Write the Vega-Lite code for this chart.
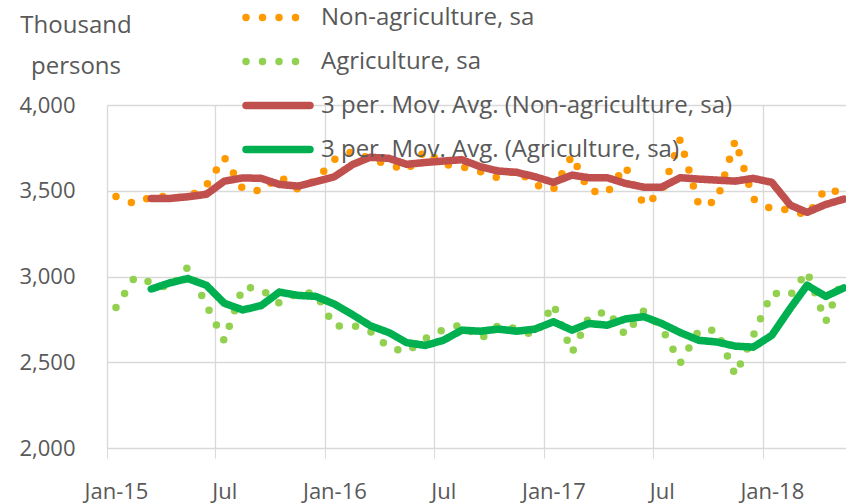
{
  "$schema": "https://vega.github.io/schema/vega-lite/v6.json",
  "width": 739,
  "height": 343,
  "autosize": {"type": "none"},
  "padding": {"left": 107, "top": 105, "right": 0, "bottom": 56},
  "background": "white",
  "config": {"view": {"stroke": null}, "font": "Open Sans"},
  "data": {"values": [
    {"d":"2015-01-16","s":"Non-agriculture, sa","v":3467},
    {"d":"2015-02-16","s":"Non-agriculture, sa","v":3425},
    {"d":"2015-03-16","s":"Non-agriculture, sa","v":3465},
    {"d":"2015-04-16","s":"Non-agriculture, sa","v":3468},
    {"d":"2015-05-16","s":"Non-agriculture, sa","v":3458},
    {"d":"2015-06-16","s":"Non-agriculture, sa","v":3530},
    {"d":"2015-07-16","s":"Non-agriculture, sa","v":3695},
    {"d":"2015-08-16","s":"Non-agriculture, sa","v":3510},
    {"d":"2015-09-16","s":"Non-agriculture, sa","v":3498},
    {"d":"2015-10-16","s":"Non-agriculture, sa","v":3585},
    {"d":"2015-11-16","s":"Non-agriculture, sa","v":3508},
    {"d":"2015-12-16","s":"Non-agriculture, sa","v":3562},
    {"d":"2016-01-16","s":"Non-agriculture, sa","v":3683},
    {"d":"2016-02-16","s":"Non-agriculture, sa","v":3730},
    {"d":"2016-03-16","s":"Non-agriculture, sa","v":3685},
    {"d":"2016-04-16","s":"Non-agriculture, sa","v":3652},
    {"d":"2016-05-16","s":"Non-agriculture, sa","v":3619},
    {"d":"2016-06-16","s":"Non-agriculture, sa","v":3735},
    {"d":"2016-07-16","s":"Non-agriculture, sa","v":3653},
    {"d":"2016-08-16","s":"Non-agriculture, sa","v":3640},
    {"d":"2016-09-16","s":"Non-agriculture, sa","v":3612},
    {"d":"2016-10-16","s":"Non-agriculture, sa","v":3575},
    {"d":"2016-11-16","s":"Non-agriculture, sa","v":3621},
    {"d":"2016-12-16","s":"Non-agriculture, sa","v":3535},
    {"d":"2017-01-16","s":"Non-agriculture, sa","v":3508},
    {"d":"2017-02-16","s":"Non-agriculture, sa","v":3705},
    {"d":"2017-03-16","s":"Non-agriculture, sa","v":3500},
    {"d":"2017-04-16","s":"Non-agriculture, sa","v":3488},
    {"d":"2017-05-16","s":"Non-agriculture, sa","v":3645},
    {"d":"2017-06-16","s":"Non-agriculture, sa","v":3418},
    {"d":"2017-07-16","s":"Non-agriculture, sa","v":3490},
    {"d":"2017-08-16","s":"Non-agriculture, sa","v":3800},
    {"d":"2017-09-16","s":"Non-agriculture, sa","v":3415},
    {"d":"2017-10-16","s":"Non-agriculture, sa","v":3438},
    {"d":"2017-11-16","s":"Non-agriculture, sa","v":3795},
    {"d":"2017-12-16","s":"Non-agriculture, sa","v":3453},
    {"d":"2018-01-16","s":"Non-agriculture, sa","v":3393},
    {"d":"2018-02-16","s":"Non-agriculture, sa","v":3390},
    {"d":"2018-03-16","s":"Non-agriculture, sa","v":3355},
    {"d":"2018-04-16","s":"Non-agriculture, sa","v":3512},
    {"d":"2018-05-16","s":"Non-agriculture, sa","v":3485},
    {"d":"2015-01-16","s":"Agriculture, sa","v":2819},
    {"d":"2015-02-16","s":"Agriculture, sa","v":2995},
    {"d":"2015-03-16","s":"Agriculture, sa","v":2965},
    {"d":"2015-04-16","s":"Agriculture, sa","v":2930},
    {"d":"2015-05-16","s":"Agriculture, sa","v":3055},
    {"d":"2015-06-16","s":"Agriculture, sa","v":2835},
    {"d":"2015-07-16","s":"Agriculture, sa","v":2625},
    {"d":"2015-08-16","s":"Agriculture, sa","v":2940},
    {"d":"2015-09-16","s":"Agriculture, sa","v":2925},
    {"d":"2015-10-16","s":"Agriculture, sa","v":2845},
    {"d":"2015-11-16","s":"Agriculture, sa","v":2905},
    {"d":"2015-12-16","s":"Agriculture, sa","v":2902},
    {"d":"2016-01-16","s":"Agriculture, sa","v":2710},
    {"d":"2016-02-16","s":"Agriculture, sa","v":2716},
    {"d":"2016-03-16","s":"Agriculture, sa","v":2680},
    {"d":"2016-04-16","s":"Agriculture, sa","v":2585},
    {"d":"2016-05-16","s":"Agriculture, sa","v":2562},
    {"d":"2016-06-16","s":"Agriculture, sa","v":2638},
    {"d":"2016-07-16","s":"Agriculture, sa","v":2690},
    {"d":"2016-08-16","s":"Agriculture, sa","v":2720},
    {"d":"2016-09-16","s":"Agriculture, sa","v":2635},
    {"d":"2016-10-16","s":"Agriculture, sa","v":2715},
    {"d":"2016-11-16","s":"Agriculture, sa","v":2695},
    {"d":"2016-12-16","s":"Agriculture, sa","v":2655},
    {"d":"2017-01-16","s":"Agriculture, sa","v":2840},
    {"d":"2017-02-16","s":"Agriculture, sa","v":2555},
    {"d":"2017-03-16","s":"Agriculture, sa","v":2760},
    {"d":"2017-04-16","s":"Agriculture, sa","v":2800},
    {"d":"2017-05-16","s":"Agriculture, sa","v":2660},
    {"d":"2017-06-16","s":"Agriculture, sa","v":2800},
    {"d":"2017-07-16","s":"Agriculture, sa","v":2700},
    {"d":"2017-08-16","s":"Agriculture, sa","v":2495},
    {"d":"2017-09-16","s":"Agriculture, sa","v":2685},
    {"d":"2017-10-16","s":"Agriculture, sa","v":2688},
    {"d":"2017-11-16","s":"Agriculture, sa","v":2425},
    {"d":"2017-12-16","s":"Agriculture, sa","v":2655},
    {"d":"2018-01-16","s":"Agriculture, sa","v":2905},
    {"d":"2018-02-16","s":"Agriculture, sa","v":2890},
    {"d":"2018-03-16","s":"Agriculture, sa","v":3030},
    {"d":"2018-04-16","s":"Agriculture, sa","v":2735},
    {"d":"2018-05-16","s":"Agriculture, sa","v":3005},
    {"d":"2015-03-16","s":"3 per. Mov. Avg. (Non-agriculture, sa)","v":3455},
    {"d":"2015-04-16","s":"3 per. Mov. Avg. (Non-agriculture, sa)","v":3455},
    {"d":"2015-05-16","s":"3 per. Mov. Avg. (Non-agriculture, sa)","v":3465},
    {"d":"2015-06-16","s":"3 per. Mov. Avg. (Non-agriculture, sa)","v":3479},
    {"d":"2015-07-16","s":"3 per. Mov. Avg. (Non-agriculture, sa)","v":3556},
    {"d":"2015-08-16","s":"3 per. Mov. Avg. (Non-agriculture, sa)","v":3575},
    {"d":"2015-09-16","s":"3 per. Mov. Avg. (Non-agriculture, sa)","v":3572},
    {"d":"2015-10-16","s":"3 per. Mov. Avg. (Non-agriculture, sa)","v":3537},
    {"d":"2015-11-16","s":"3 per. Mov. Avg. (Non-agriculture, sa)","v":3527},
    {"d":"2015-12-16","s":"3 per. Mov. Avg. (Non-agriculture, sa)","v":3553},
    {"d":"2016-01-16","s":"3 per. Mov. Avg. (Non-agriculture, sa)","v":3582},
    {"d":"2016-02-16","s":"3 per. Mov. Avg. (Non-agriculture, sa)","v":3654},
    {"d":"2016-03-16","s":"3 per. Mov. Avg. (Non-agriculture, sa)","v":3695},
    {"d":"2016-04-16","s":"3 per. Mov. Avg. (Non-agriculture, sa)","v":3689},
    {"d":"2016-05-16","s":"3 per. Mov. Avg. (Non-agriculture, sa)","v":3654},
    {"d":"2016-06-16","s":"3 per. Mov. Avg. (Non-agriculture, sa)","v":3665},
    {"d":"2016-07-16","s":"3 per. Mov. Avg. (Non-agriculture, sa)","v":3673},
    {"d":"2016-08-16","s":"3 per. Mov. Avg. (Non-agriculture, sa)","v":3681},
    {"d":"2016-09-16","s":"3 per. Mov. Avg. (Non-agriculture, sa)","v":3640},
    {"d":"2016-10-16","s":"3 per. Mov. Avg. (Non-agriculture, sa)","v":3615},
    {"d":"2016-11-16","s":"3 per. Mov. Avg. (Non-agriculture, sa)","v":3607},
    {"d":"2016-12-16","s":"3 per. Mov. Avg. (Non-agriculture, sa)","v":3582},
    {"d":"2017-01-16","s":"3 per. Mov. Avg. (Non-agriculture, sa)","v":3549},
    {"d":"2017-02-16","s":"3 per. Mov. Avg. (Non-agriculture, sa)","v":3591},
    {"d":"2017-03-16","s":"3 per. Mov. Avg. (Non-agriculture, sa)","v":3576},
    {"d":"2017-04-16","s":"3 per. Mov. Avg. (Non-agriculture, sa)","v":3576},
    {"d":"2017-05-16","s":"3 per. Mov. Avg. (Non-agriculture, sa)","v":3543},
    {"d":"2017-06-16","s":"3 per. Mov. Avg. (Non-agriculture, sa)","v":3521},
    {"d":"2017-07-16","s":"3 per. Mov. Avg. (Non-agriculture, sa)","v":3521},
    {"d":"2017-08-16","s":"3 per. Mov. Avg. (Non-agriculture, sa)","v":3576},
    {"d":"2017-09-16","s":"3 per. Mov. Avg. (Non-agriculture, sa)","v":3568},
    {"d":"2017-10-16","s":"3 per. Mov. Avg. (Non-agriculture, sa)","v":3562},
    {"d":"2017-11-16","s":"3 per. Mov. Avg. (Non-agriculture, sa)","v":3556},
    {"d":"2017-12-16","s":"3 per. Mov. Avg. (Non-agriculture, sa)","v":3572},
    {"d":"2018-01-16","s":"3 per. Mov. Avg. (Non-agriculture, sa)","v":3549},
    {"d":"2018-02-16","s":"3 per. Mov. Avg. (Non-agriculture, sa)","v":3416},
    {"d":"2018-03-16","s":"3 per. Mov. Avg. (Non-agriculture, sa)","v":3374},
    {"d":"2018-04-16","s":"3 per. Mov. Avg. (Non-agriculture, sa)","v":3420},
    {"d":"2018-05-16","s":"3 per. Mov. Avg. (Non-agriculture, sa)","v":3451},
    {"d":"2015-03-16","s":"3 per. Mov. Avg. (Agriculture, sa)","v":2927},
    {"d":"2015-04-16","s":"3 per. Mov. Avg. (Agriculture, sa)","v":2963},
    {"d":"2015-05-16","s":"3 per. Mov. Avg. (Agriculture, sa)","v":2988},
    {"d":"2015-06-16","s":"3 per. Mov. Avg. (Agriculture, sa)","v":2949},
    {"d":"2015-07-16","s":"3 per. Mov. Avg. (Agriculture, sa)","v":2844},
    {"d":"2015-08-16","s":"3 per. Mov. Avg. (Agriculture, sa)","v":2805},
    {"d":"2015-09-16","s":"3 per. Mov. Avg. (Agriculture, sa)","v":2831},
    {"d":"2015-10-16","s":"3 per. Mov. Avg. (Agriculture, sa)","v":2909},
    {"d":"2015-11-16","s":"3 per. Mov. Avg. (Agriculture, sa)","v":2890},
    {"d":"2015-12-16","s":"3 per. Mov. Avg. (Agriculture, sa)","v":2884},
    {"d":"2016-01-16","s":"3 per. Mov. Avg. (Agriculture, sa)","v":2839},
    {"d":"2016-02-16","s":"3 per. Mov. Avg. (Agriculture, sa)","v":2776},
    {"d":"2016-03-16","s":"3 per. Mov. Avg. (Agriculture, sa)","v":2713},
    {"d":"2016-04-16","s":"3 per. Mov. Avg. (Agriculture, sa)","v":2673},
    {"d":"2016-05-16","s":"3 per. Mov. Avg. (Agriculture, sa)","v":2614},
    {"d":"2016-06-16","s":"3 per. Mov. Avg. (Agriculture, sa)","v":2598},
    {"d":"2016-07-16","s":"3 per. Mov. Avg. (Agriculture, sa)","v":2628},
    {"d":"2016-08-16","s":"3 per. Mov. Avg. (Agriculture, sa)","v":2687},
    {"d":"2016-09-16","s":"3 per. Mov. Avg. (Agriculture, sa)","v":2681},
    {"d":"2016-10-16","s":"3 per. Mov. Avg. (Agriculture, sa)","v":2693},
    {"d":"2016-11-16","s":"3 per. Mov. Avg. (Agriculture, sa)","v":2681},
    {"d":"2016-12-16","s":"3 per. Mov. Avg. (Agriculture, sa)","v":2693},
    {"d":"2017-01-16","s":"3 per. Mov. Avg. (Agriculture, sa)","v":2736},
    {"d":"2017-02-16","s":"3 per. Mov. Avg. (Agriculture, sa)","v":2687},
    {"d":"2017-03-16","s":"3 per. Mov. Avg. (Agriculture, sa)","v":2726},
    {"d":"2017-04-16","s":"3 per. Mov. Avg. (Agriculture, sa)","v":2716},
    {"d":"2017-05-16","s":"3 per. Mov. Avg. (Agriculture, sa)","v":2752},
    {"d":"2017-06-16","s":"3 per. Mov. Avg. (Agriculture, sa)","v":2766},
    {"d":"2017-07-16","s":"3 per. Mov. Avg. (Agriculture, sa)","v":2726},
    {"d":"2017-08-16","s":"3 per. Mov. Avg. (Agriculture, sa)","v":2673},
    {"d":"2017-09-16","s":"3 per. Mov. Avg. (Agriculture, sa)","v":2628},
    {"d":"2017-10-16","s":"3 per. Mov. Avg. (Agriculture, sa)","v":2618},
    {"d":"2017-11-16","s":"3 per. Mov. Avg. (Agriculture, sa)","v":2594},
    {"d":"2017-12-16","s":"3 per. Mov. Avg. (Agriculture, sa)","v":2588},
    {"d":"2018-01-16","s":"3 per. Mov. Avg. (Agriculture, sa)","v":2657},
    {"d":"2018-02-16","s":"3 per. Mov. Avg. (Agriculture, sa)","v":2815},
    {"d":"2018-03-16","s":"3 per. Mov. Avg. (Agriculture, sa)","v":2949},
    {"d":"2018-04-16","s":"3 per. Mov. Avg. (Agriculture, sa)","v":2884},
    {"d":"2018-05-16","s":"3 per. Mov. Avg. (Agriculture, sa)","v":2933}
  ]},
  "encoding": {
    "x": {
      "field": "d", "type": "temporal",
      "scale": {"type": "utc", "domain": [
        {"year": 2015, "month": 1, "date": 1, "utc": true},
        {"year": 2018, "month": 5, "date": 20, "utc": true}
      ]},
      "axis": {
        "title": null,
        "values": [
          {"year": 2015, "month": 1, "date": 1, "utc": true},
          {"year": 2015, "month": 7, "date": 1, "utc": true},
          {"year": 2016, "month": 1, "date": 1, "utc": true},
          {"year": 2016, "month": 7, "date": 1, "utc": true},
          {"year": 2017, "month": 1, "date": 1, "utc": true},
          {"year": 2017, "month": 7, "date": 1, "utc": true},
          {"year": 2018, "month": 1, "date": 1, "utc": true}
        ],
        "labelExpr": "utcFormat(datum.value, '%m') == '01' ? utcFormat(datum.value, '%b-%y') : utcFormat(datum.value, '%b')",
        "labelOffset": 9,
        "labelFontSize": 22,
        "labelColor": "#595959",
        "labelBaseline": "alphabetic",
        "labelPadding": 40.5,
        "labelFlush": false,
        "labelOverlap": false,
        "tickSize": 10,
        "tickColor": "#D9D9D9",
        "domainColor": "#D9D9D9",
        "grid": true,
        "gridColor": "#D9D9D9",
        "gridWidth": 1.3
      }
    },
    "y": {
      "field": "v", "type": "quantitative",
      "scale": {"domain": [2000, 4000], "nice": false, "zero": false},
      "axis": {
        "title": ["Thousand", "persons"],
        "titleAngle": 0,
        "titleX": -31.5,
        "titleY": -72.7,
        "titleAlign": "center",
        "titleBaseline": "alphabetic",
        "titleFontSize": 24,
        "titleFontWeight": "normal",
        "titleColor": "#595959",
        "titleLineHeight": 41,
        "values": [2000, 2500, 3000, 3500, 4000],
        "format": ",.0f",
        "ticks": false,
        "domain": false,
        "labelPadding": 32,
        "labelFontSize": 22,
        "labelColor": "#595959",
        "gridColor": "#D9D9D9",
        "gridWidth": 1.3
      }
    },
    "color": {
      "field": "s", "type": "nominal",
      "scale": {
        "domain": ["Non-agriculture, sa", "Agriculture, sa", "3 per. Mov. Avg. (Non-agriculture, sa)", "3 per. Mov. Avg. (Agriculture, sa)"],
        "range": ["#FF9900", "#92D050", "#C0504D", "#00B050"]
      },
      "legend": {
        "orient": "none",
        "legendX": 156.5,
        "legendY": -102,
        "title": null,
        "padding": 0,
        "direction": "vertical",
        "labelFontSize": 24,
        "labelColor": "#595959",
        "labelLimit": 700,
        "symbolType": "M-3,0H3",
        "symbolSize": 455,
        "labelOffset": 28.5,
        "rowPadding": 13,
        "encode": {"symbols": {"update": {"strokeCap": {"value": "round"}}}}
      }
    },
    "strokeDash": {
      "field": "s", "type": "nominal",
      "scale": {
        "domain": ["Non-agriculture, sa", "Agriculture, sa", "3 per. Mov. Avg. (Non-agriculture, sa)", "3 per. Mov. Avg. (Agriculture, sa)"],
        "range": [[0, 16.5], [0, 16.5], [1, 0], [1, 0]]
      }
    },
    "strokeWidth": {
      "field": "s", "type": "nominal",
      "scale": {
        "domain": ["Non-agriculture, sa", "Agriculture, sa", "3 per. Mov. Avg. (Non-agriculture, sa)", "3 per. Mov. Avg. (Agriculture, sa)"],
        "range": [7.5, 7.5, 5.5, 5.5]
      }
    }
  },
  "layer": [
    {
      "transform": [{"filter": {"field": "s", "oneOf": ["Non-agriculture, sa", "Agriculture, sa"]}}],
      "mark": {"type": "line", "strokeCap": "round", "strokeJoin": "round"}
    },
    {
      "transform": [{"filter": {"field": "s", "oneOf": ["3 per. Mov. Avg. (Non-agriculture, sa)", "3 per. Mov. Avg. (Agriculture, sa)"]}}],
      "mark": {"type": "line", "strokeCap": "round", "strokeJoin": "round"}
    }
  ]
}
